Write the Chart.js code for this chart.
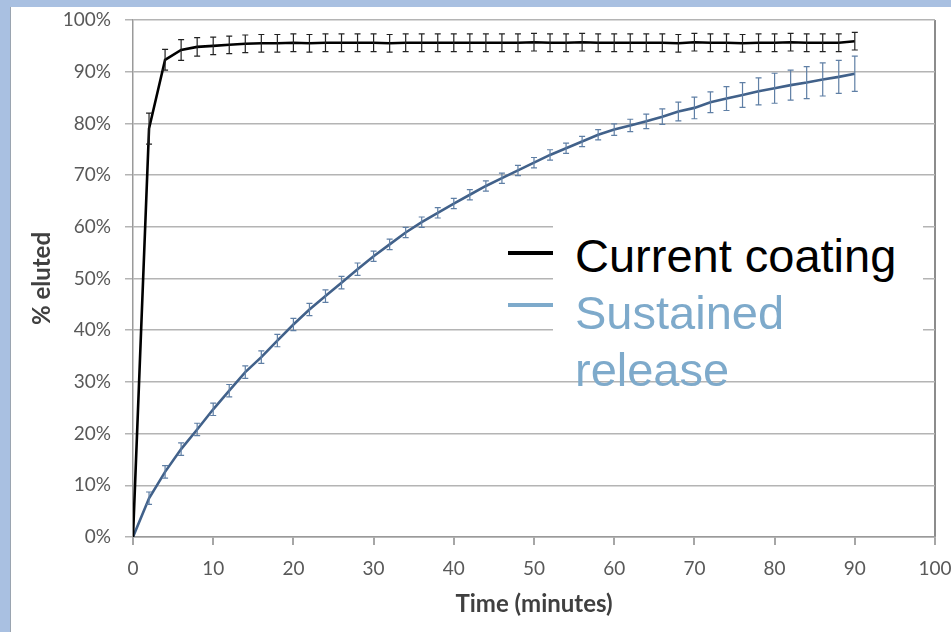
<!DOCTYPE html>
<html><head><meta charset="utf-8">
<script src="https://cdn.jsdelivr.net/npm/chart.js@4"></script>
<style>
html,body{margin:0;padding:0;width:951px;height:632px;overflow:hidden;background:#a9c0e1;}
#panel{position:absolute;left:10px;top:7px;width:941px;height:625px;background:#fff;border-left:1px solid #9aa4b0;box-sizing:border-box;}
#c{position:absolute;left:0;top:0;}
#legendBox{position:absolute;left:553px;top:200px;width:370px;height:143px;background:#fff;}
.sym{position:absolute;left:508px;width:45px;height:4px;}
.lt{position:absolute;left:575px;width:348px;font-family:"Liberation Sans",Arial,sans-serif;font-size:47px;line-height:57px;white-space:normal;}
</style></head>
<body>
<div id="panel"></div>
<canvas id="c" width="951" height="632"></canvas>
<div id="legendBox"></div>
<div class="sym" style="top:251px;background:#000;"></div>
<div class="sym" style="top:303px;background:#7eaacb;"></div>
<div class="lt" style="top:227px;color:#000;">Current coating</div>
<div class="lt" style="top:284px;color:#7eaacb;">Sustained release</div>
<script>
const times = [0,2,4,6,8,10,12,14,16,18,20,22,24,26,28,30,32,34,36,38,40,42,44,46,48,50,52,54,56,58,60,62,64,66,68,70,72,74,76,78,80,82,84,86,88,90];
const currentCoating = [0,79.0,92.3,94.2,94.8,95.0,95.2,95.4,95.5,95.5,95.6,95.5,95.6,95.6,95.6,95.6,95.5,95.6,95.6,95.6,95.6,95.6,95.6,95.6,95.6,95.7,95.6,95.6,95.7,95.6,95.6,95.6,95.6,95.6,95.5,95.7,95.6,95.6,95.5,95.6,95.6,95.7,95.6,95.6,95.6,95.9];
const currentCoatingErr = [0,3.0,2.0,2.0,1.8,1.7,1.7,1.7,1.7,1.7,1.7,1.7,1.7,1.7,1.7,1.7,1.7,1.7,1.7,1.7,1.7,1.7,1.7,1.7,1.7,1.7,1.7,1.7,1.7,1.7,1.7,1.7,1.7,1.7,1.7,1.7,1.7,1.7,1.7,1.7,1.7,1.7,1.7,1.7,1.7,1.7];
const sustainedRelease = [0,7.5,12.6,17.0,20.8,24.7,28.3,31.9,34.8,38.0,41.1,44.0,46.6,49.2,51.8,54.3,56.6,58.9,60.9,62.7,64.5,66.2,67.9,69.4,70.9,72.4,73.9,75.2,76.5,77.8,78.8,79.6,80.4,81.3,82.3,83.0,84.1,84.8,85.5,86.2,86.8,87.4,87.9,88.5,89.0,89.6];
const sustainedReleaseErr = [0,1.2,1.2,1.2,1.2,1.2,1.2,1.2,1.2,1.2,1.2,1.2,1.2,1.2,1.2,1.0,1.0,1.0,1.0,1.0,1.0,1.0,1.0,1.0,1.0,1.0,1.0,1.0,1.0,1.0,1.1,1.2,1.4,1.5,1.8,2.1,2.0,2.3,2.4,2.6,2.9,2.9,3.1,3.2,3.2,3.4];
const xTicks = [0,10,20,30,40,50,60,70,80,90,100];
const yTicks = [0,10,20,30,40,50,60,70,80,90,100];

const seriesNames = ['Current coating','Sustained release'];

const errorBarPlugin = {
  id: 'errorBars',
  afterDatasetsDraw(chart) {
    const ctx = chart.ctx, xs = chart.scales.x, ys = chart.scales.y;
    chart.data.datasets.forEach(ds => {
      if (!ds.errorBars) return;
      ctx.save();
      ctx.strokeStyle = ds.errorBarColor;
      ctx.lineWidth = 1.2;
      ds.data.forEach((p, i) => {
        const e = ds.errorBars[i];
        if (!e) return;
        const x = xs.getPixelForValue(p.x);
        const y1 = ys.getPixelForValue(p.y + e);
        const y2 = ys.getPixelForValue(p.y - e);
        ctx.beginPath();
        ctx.moveTo(x, y1); ctx.lineTo(x, y2);
        ctx.moveTo(x - 3, y1); ctx.lineTo(x + 3, y1);
        ctx.moveTo(x - 3, y2); ctx.lineTo(x + 3, y2);
        ctx.stroke();
      });
      ctx.restore();
    });
  }
};

const tickFont = {family: 'Lato, "Open Sans", sans-serif', size: 19};
const titleFont = {family: 'Lato, "Open Sans", sans-serif', size: 24, weight: 'bold'};

new Chart(document.getElementById('c'), {
  type: 'line',
  data: {
    datasets: [
      {
        label: seriesNames[0],
        data: times.map((t, i) => ({x: t, y: currentCoating[i]})),
        errorBars: currentCoatingErr,
        errorBarColor: '#222',
        borderColor: '#000',
        borderWidth: 2.6,
        pointRadius: 0,
        tension: 0,
        fill: false
      },
      {
        label: seriesNames[1],
        data: times.map((t, i) => ({x: t, y: sustainedRelease[i]})),
        errorBars: sustainedReleaseErr,
        errorBarColor: '#5f7fa5',
        borderColor: '#41618a',
        borderWidth: 2.6,
        pointRadius: 0,
        tension: 0,
        fill: false
      }
    ]
  },
  options: {
    responsive: false,
    animation: false,
    events: [],
    layout: {padding: {left: 0, right: 16, top: 20, bottom: 0}},
    plugins: {legend: {display: false}, tooltip: {enabled: false}},
    scales: {
      x: {
        type: 'linear', min: 0, max: 100,
        afterBuildTicks: s => { s.ticks = xTicks.map(v => ({value: v})); },
        afterFit: s => { s.height = 95; s.paddingLeft = 0; s.paddingRight = 0; },
        grid: {
          drawOnChartArea: true,
          color: c => (c.tick && c.tick.value === 100) ? '#8c8c8c' : 'rgba(0,0,0,0)',
          lineWidth: 2,
          tickLength: 8,
          tickColor: '#a6a6a6'
        },
        border: {color: '#9a9a9a', width: 1.5},
        ticks: {font: tickFont, color: '#595959', padding: 12, maxRotation: 0, autoSkip: false, callback: v => String(v)},
        title: {display: true, text: 'Time (minutes)', font: titleFont, color: '#404040', padding: {top: 0, bottom: 13}}
      },
      y: {
        min: 0, max: 100,
        afterBuildTicks: s => { s.ticks = yTicks.map(v => ({value: v})); },
        afterFit: s => { s.width = 133; s.paddingTop = 0; s.paddingBottom = 0; },
        grid: {color: '#b4b4b4', lineWidth: 1.5, tickLength: 8, tickColor: '#b4b4b4'},
        border: {color: '#9a9a9a', width: 1.5},
        ticks: {font: tickFont, color: '#595959', padding: 14, callback: v => v + '%'},
        title: {display: true, text: '% eluted', font: titleFont, color: '#404040', padding: {top: 28, bottom: 0}}
      }
    }
  },
  plugins: [errorBarPlugin]
});
</script>
</body></html>
